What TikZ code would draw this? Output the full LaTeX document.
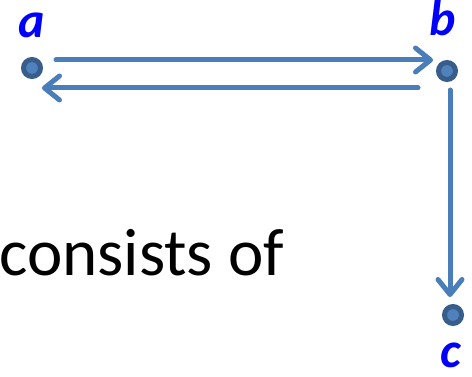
\documentclass[tikz,border=0pt]{standalone}
\usepackage{fontspec}
\setmainfont{Carlito}
\usetikzlibrary{arrows.meta}
\definecolor{linec}{HTML}{4A7EBB}
\definecolor{dotdark}{HTML}{385D8A}
\definecolor{dotfill}{HTML}{4F81BD}
\tikzset{
  vdot/.style={circle,draw=dotdark,fill=dotfill,line width=5pt,minimum size=17pt,inner sep=0pt},
  vlabel/.style={text=blue,font=\fontsize{50}{50}\selectfont\bfseries\itshape,inner sep=0pt,anchor=base},
  arr/.style={draw=linec,line width=5pt,line cap=round,-{Straight Barb[length=15pt,width=24pt,line cap=round,line join=round]}}
}
\begin{document}
\begin{tikzpicture}[x=1pt,y=-1pt]
\useasboundingbox (0,0) rectangle (472,377);
\node[vdot] (a) at (32,68) {};
\node[vdot] (b) at (447,71) {};
\node[vdot] (c) at (453,315) {};
\node[vlabel] (la) at (32,38) {a};
\node[vlabel] (lb) at (443,36) {b};
\node[vlabel] (lc) at (451,367) {c};
\coordinate (a1) at (56,60);
\coordinate (b1) at (433,60);
\coordinate (b2) at (418,88);
\coordinate (a2) at (42,88);
\coordinate (b3) at (450,90);
\coordinate (c1) at (450,297);
\draw[arr] (a1) -- (b1);
\draw[arr] (b2) -- (a2);
\draw[arr] (b3) -- (c1);
\node[anchor=base west,inner sep=0pt,font=\fontsize{67}{67}\selectfont] (t) at (-1,276) {consists of};
\end{tikzpicture}
\end{document}
